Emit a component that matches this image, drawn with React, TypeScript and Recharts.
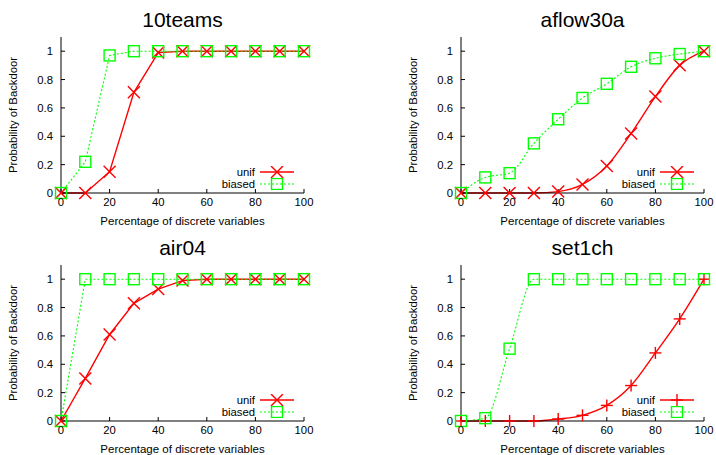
import React from 'react';
import { LineChart, Line, XAxis, YAxis, Legend } from 'recharts';

const xs = [0, 10, 20, 30, 40, 50, 60, 70, 80, 90, 100];
const xTicks = [0, 20, 40, 60, 80, 100];
const yTicks = [0, 0.2, 0.4, 0.6, 0.8, 1];

const titles = ['10teams', 'aflow30a', 'air04', 'set1ch'];
const seriesOrder = ['unif', 'biased'];

const unif10teams = [0, 0, 0.15, 0.71, 0.99, 1, 1, 1, 1, 1, 1];
const biased10teams = [0, 0.22, 0.97, 1, 1, 1, 1, 1, 1, 1, 1];

const unifAflow = [0, 0, 0, 0, 0.01, 0.06, 0.19, 0.42, 0.68, 0.9, 1];
const biasedAflow = [0, 0.11, 0.14, 0.35, 0.52, 0.67, 0.77, 0.89, 0.95, 0.98, 1];

const unifAir04 = [0, 0.3, 0.61, 0.83, 0.93, 0.99, 1, 1, 1, 1, 1];
const biasedAir04 = [0, 1, 1, 1, 1, 1, 1, 1, 1, 1, 1];

const unifSet1ch = [0, 0, 0, 0, 0.014, 0.04, 0.11, 0.25, 0.48, 0.72, 1];
const biasedSet1ch = [0, 0.02, 0.51, 1, 1, 1, 1, 1, 1, 1, 1];

const RED = '#ff0000';
const GREEN = '#00ff00';
const FONT = '"Liberation Sans", Arial, Helvetica, sans-serif';

type Marker = 'cross' | 'plus' | 'square';

const drawMarker = (kind: Marker, cx: number, cy: number, color: string, key?: string) => {
  if (kind === 'square') {
    return <rect key={key} x={cx - 5.5} y={cy - 5.5} width={11} height={11} fill="none" stroke={color} strokeWidth={1.4} />;
  }
  if (kind === 'plus') {
    return (
      <g key={key} stroke={color} strokeWidth={1.4}>
        <line x1={cx - 6} y1={cy} x2={cx + 6} y2={cy} />
        <line x1={cx} y1={cy - 6} x2={cx} y2={cy + 6} />
      </g>
    );
  }
  return (
    <g key={key} stroke={color} strokeWidth={1.4}>
      <line x1={cx - 6} y1={cy - 6} x2={cx + 6} y2={cy + 6} />
      <line x1={cx - 6} y1={cy + 6} x2={cx + 6} y2={cy - 6} />
    </g>
  );
};

const dotFor = (kind: Marker, color: string) => (props: any) => {
  const { cx, cy, index } = props;
  if (cx == null || cy == null) return <g key={`e-${index}`} />;
  return drawMarker(kind, cx, cy, color, `${kind}-${index}`);
};

interface PanelProps {
  title: string;
  unif: number[];
  biased: number[];
  unifMarker: Marker;
  curve: 'linear' | 'monotone';
  left: number;
  top: number;
}

const Panel: React.FC<PanelProps> = ({ title, unif, biased, unifMarker, curve, left, top }) => {
  const data = xs.map((x, i) => ({ x, unif: unif[i], biased: biased[i] }));
  const markers: Record<string, Marker> = { unif: unifMarker, biased: 'square' };

  const legendContent = (props: any) => {
    const items = ([...(props.payload || [])] as any[]).sort(
      (a, b) => seriesOrder.indexOf(a.value) - seriesOrder.indexOf(b.value)
    );
    return (
      <div>
        {items.map((it: any) => (
          <div key={it.value} style={{ display: 'flex', alignItems: 'center', height: 12, lineHeight: '12px', justifyContent: 'flex-end' }}>
            <span style={{ fontSize: 11.3, lineHeight: '12px', color: '#000', fontFamily: FONT, marginRight: 5 }}>{it.value}</span>
            <svg width={34} height={12} style={{ display: 'block' }}>
              <line x1={0} y1={6} x2={34} y2={6} stroke={it.color} strokeWidth={it.value === 'unif' ? 1.4 : 1.1} strokeDasharray={it.value === 'unif' ? undefined : '2 2'} />
              {drawMarker(markers[it.value], 17, 6, it.color)}
            </svg>
          </div>
        ))}
      </div>
    );
  };

  return (
    <div style={{ position: 'absolute', left, top, width: 316, height: 228 }}>
      <div style={{ position: 'absolute', left: 61, top: 7, width: 243, textAlign: 'center', fontSize: 21, lineHeight: '26px', fontFamily: FONT, color: '#000' }}>
        {title}
      </div>
      <LineChart width={316} height={228} data={data} margin={{ top: 37, right: 12, bottom: 0, left: 0 }} style={{ fontFamily: FONT }}>
        <XAxis
          xAxisId="bottom"
          dataKey="x"
          type="number"
          domain={[0, 100]}
          ticks={xTicks}
          height={35}
          stroke="#000"
          tickSize={-4}
          tickMargin={9}
          tick={{ fill: '#000', fontSize: 11.3 }}
          label={{ value: 'Percentage of discrete variables', position: 'insideBottom', offset: 3, fill: '#000', fontSize: 11.5 }}
        />
        <XAxis xAxisId="top" orientation="top" dataKey="x" type="number" domain={[0, 100]} ticks={xTicks} height={0} stroke="#000" tickSize={-4} tick={() => null} />
        <YAxis
          yAxisId="left"
          type="number"
          domain={[0, 1.1]}
          ticks={yTicks}
          width={61}
          stroke="#000"
          tickSize={-4}
          tickMargin={12}
          tick={{ fill: '#000', fontSize: 11.3 }}
          label={{ value: 'Probability of Backdoor', angle: -90, position: 'insideLeft', offset: 13, fill: '#000', fontSize: 11.3, style: { textAnchor: 'middle' } }}
        />
        <YAxis yAxisId="right" orientation="right" type="number" domain={[0, 1.1]} ticks={yTicks} width={0} stroke="#000" tickSize={-4} tick={() => null} />
        <Legend
          layout="vertical"
          align="center"
          verticalAlign="middle"
          content={legendContent}
          wrapperStyle={{ position: 'absolute', left: 182, top: 166, width: 112, height: 24, margin: 0 }}
        />
        <Line
          xAxisId="bottom"
          yAxisId="left"
          type={curve}
          dataKey="unif"
          name="unif"
          stroke={RED}
          strokeWidth={1.4}
          dot={dotFor(unifMarker, RED)}
          activeDot={false}
          isAnimationActive={false}
        />
        <Line
          xAxisId="bottom"
          yAxisId="left"
          type={curve}
          dataKey="biased"
          name="biased"
          stroke={GREEN}
          strokeWidth={1.1}
          strokeDasharray="2 2"
          dot={dotFor('square', GREEN)}
          activeDot={false}
          isAnimationActive={false}
        />
      </LineChart>
    </div>
  );
};

export default function App() {
  return (
    <div style={{ position: 'absolute', left: 0, top: 0, width: 716, height: 455, overflow: 'hidden', background: '#fff' }}>
      <Panel title={titles[0]} unif={unif10teams} biased={biased10teams} unifMarker="cross" curve="linear" left={0} top={0} />
      <Panel title={titles[1]} unif={unifAflow} biased={biasedAflow} unifMarker="cross" curve="monotone" left={400} top={0} />
      <Panel title={titles[2]} unif={unifAir04} biased={biasedAir04} unifMarker="cross" curve="linear" left={0} top={228} />
      <Panel title={titles[3]} unif={unifSet1ch} biased={biasedSet1ch} unifMarker="plus" curve="monotone" left={400} top={228} />
    </div>
  );
}
